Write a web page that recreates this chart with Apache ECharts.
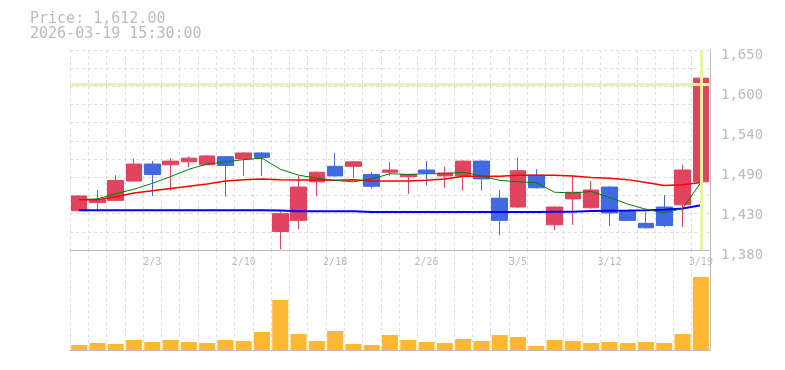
<!DOCTYPE html>
<html>
<head>
<meta charset="utf-8">
<script src="https://cdn.jsdelivr.net/npm/echarts@6/dist/echarts.min.js"></script>
<style>html,body{margin:0;padding:0;background:#fff;}#c{width:785px;height:370px;}</style>
</head>
<body>
<div id="c"></div>
<script>
var dates = ['1/28','1/29','1/30','2/2','2/3','2/4','2/5','2/6','2/9','2/10','2/12','2/13','2/16','2/17','2/18','2/19','2/20','2/24','2/25','2/26','2/27','3/2','3/3','3/4','3/5','3/6','3/9','3/10','3/11','3/12','3/13','3/16','3/17','3/18','3/19'];
// [open, close, low, high]
var ohlc = [
  [1433,1453,1433,1454],[1444,1448,1432,1461],[1447,1474,1446,1481],[1473,1496,1473,1503],
  [1496,1482,1453,1500],[1495,1500,1460,1504],[1499,1504,1492,1506],[1495,1507,1495,1508],
  [1506,1494,1452,1507],[1503,1511,1480,1512],[1511,1505,1480,1512],[1405,1429,1381,1432],
  [1420,1465,1408,1480],[1472,1485,1453,1486],[1493,1480,1479,1511],[1493,1499,1478,1500],
  [1482,1466,1463,1485],[1485,1488,1480,1499],[1479,1482,1456,1483],[1488,1484,1467,1500],
  [1480,1484,1464,1492],[1480,1500,1460,1501],[1500,1476,1460,1501],[1450,1420,1400,1461],
  [1438,1487,1437,1505],[1481,1464,1463,1489],[1414,1438,1407,1439],[1449,1458,1414,1481],
  [1437,1461,1436,1473],[1465,1430,1412,1466],[1432,1420,1419,1433],[1416,1410,1409,1431],
  [1438,1413,1411,1454],[1441,1488,1411,1495],[1472,1612,1471,1650]
];
var volume = [5000,7000,6000,10000,8000,10000,8000,7000,10000,9000,18000,50000,16000,9000,19000,6000,5000,15000,10000,8000,7000,11000,9000,15000,13000,4000,10000,9000,7000,8000,7000,8000,7000,16000,73000];
var maShort = [1448,1449,1456,1462,1470,1479,1489,1496,1499,1502,1504,1489,1481,1477,1474,1472,1476,1483,1482,1483,1483,1485,1480,1474,1472,1471,1458,1457,1459,1451,1442,1435,1430,1436,1471];
var maMid = [1448,1448,1452,1457,1460,1463,1466,1469,1473,1475,1476,1475,1474.5,1474.5,1474,1475,1473,1473,1473,1474,1476,1479.5,1479.5,1479.5,1481,1481,1481,1480,1478,1477,1475,1471,1467,1468,1471];
var maLong = [1433.6,1433.6,1433.6,1433.6,1433.6,1433.6,1433.6,1433.6,1433.6,1433.6,1433.6,1433.4,1432.2,1432.2,1432.2,1432.2,1431.3,1431.3,1431.3,1431.3,1431.3,1431.3,1431.3,1431.3,1431.3,1431.3,1431.7,1431.7,1432.6,1433,1433.3,1433.7,1434.4,1436,1440.5];
var yTicks = {min:1380, max:1650, interval:54};
var priceTitle = 'Price: 1,612.00';
var timeTitle = '2026-03-19 15:30:00';
var crossX = '3/19';
var crossY = 1604;

var mono = 'DejaVu Sans Mono';
var chart = echarts.init(document.getElementById('c'));
var labelIdx = function(i){ return i % 5 === 4; };
chart.setOption({
  animation: false,
  title: {
    text: priceTitle + '\n' + timeTitle,
    left: 30, top: 12, padding: 0,
    textStyle: {fontFamily: mono, fontSize: 15, fontWeight: 'normal', color: '#bbb', lineHeight: 15}
  },
  grid: [
    {left: 70, right: 75, top: 50, height: 200},
    {left: 70, right: 75, top: 250, height: 100}
  ],
  xAxis: [
    {type:'category', gridIndex:0, data:dates, boundaryGap:true,
     axisLine:{lineStyle:{color:'#bbb', width:1}}, axisTick:{show:false},
     axisLabel:{interval:labelIdx, color:'#bbb', fontFamily:mono, fontSize:10, margin:7},
     splitLine:{show:true, interval:0, lineStyle:{color:'#ddd', type:[3,3]}}},
    {type:'category', gridIndex:1, data:dates, boundaryGap:true,
     axisLine:{lineStyle:{color:'#bbb', width:1}}, axisTick:{show:false}, axisLabel:{show:false},
     splitLine:{show:true, interval:0, lineStyle:{color:'#ddd', type:[3,3]}}}
  ],
  yAxis: [
    {type:'value', gridIndex:0, position:'right', min:yTicks.min, max:yTicks.max, interval:yTicks.interval,
     axisLine:{show:true, lineStyle:{color:'#bbb'}}, axisTick:{show:false}, splitLine:{show:false},
     axisLabel:{color:'#bbb', fontFamily:mono, fontSize:14, margin:11, verticalAlign:'top', lineHeight:10,
       formatter:function(v){ var r = Math.round(v/10)*10; return r.toLocaleString('en-US'); }}},
    {type:'value', gridIndex:1, position:'right', min:0, max:100000,
     axisLine:{show:true, lineStyle:{color:'#bbb'}}, axisTick:{show:false}, splitLine:{show:false}, axisLabel:{show:false}},
    {type:'value', gridIndex:0, position:'left', min:0, max:11, interval:1,
     axisLine:{show:false}, axisTick:{show:false}, axisLabel:{show:false},
     splitLine:{show:true, lineStyle:{color:'#ddd', type:[3,3]}}}
  ],
  series: [
    {type:'line', xAxisIndex:0, yAxisIndex:0, data:maLong, showSymbol:false, silent:true,
     lineStyle:{color:'#0000ff', width:2},
     markLine:{silent:true, symbol:['none','none'], label:{show:false},
       lineStyle:{color:'#e6f5a0', width:3, type:'solid'},
       data:[{xAxis:crossX},{yAxis:crossY}]}},
    {type:'line', xAxisIndex:0, yAxisIndex:0, data:maMid, showSymbol:false, silent:true,
     lineStyle:{color:'#ff0000', width:1.5}},
    {type:'line', xAxisIndex:0, yAxisIndex:0, data:maShort, showSymbol:false, silent:true,
     lineStyle:{color:'#008000', width:1}},
    {type:'candlestick', xAxisIndex:0, yAxisIndex:0, data:ohlc, barWidth:16, clip:true,
     itemStyle:{color:'#e2435f', color0:'#4169e1', borderColor:'#e2435f', borderColor0:'#4169e1', borderWidth:1}},
    {type:'bar', xAxisIndex:1, yAxisIndex:1, data:volume, barWidth:16,
     itemStyle:{color:'#fdb733'}}
  ]
});
</script>
</body>
</html>
